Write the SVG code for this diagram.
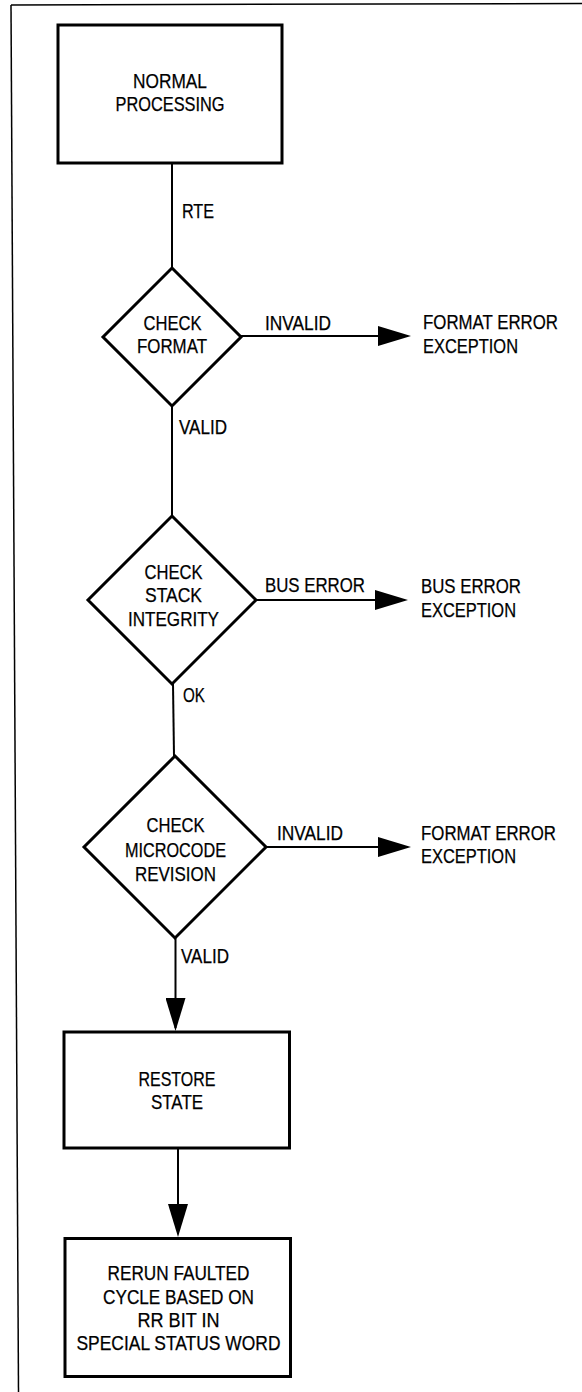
<svg xmlns="http://www.w3.org/2000/svg" width="582" height="1392" viewBox="0 0 582 1392">
<style>
  .box { fill: #fff; stroke: #000; stroke-width: 3; }
  .dia { fill: #fff; stroke: #000; stroke-width: 3; stroke-linejoin: miter; }
  .ln { fill: none; stroke: #000; stroke-width: 2; }
  .frame { fill: none; stroke: #000; stroke-width: 1.5; }
  text { font-family: "Liberation Sans", Arial, sans-serif; font-size: 20px; fill: #000; stroke: #000; stroke-width: 0.25; }
  .c { text-anchor: middle; }
</style>
<defs>
  <marker id="arr" viewBox="0 0 33 20" markerWidth="33" markerHeight="20" refX="30" refY="10" orient="auto" markerUnits="userSpaceOnUse">
    <path d="M0,0 L33,10 L0,20 Z" fill="#000"/>
  </marker>
</defs>
<rect width="582" height="1392" fill="#fff"/>
<g id="frame">
  <path class="frame" d="M11,5 L582,3.5"/>
  <path class="frame" d="M11,5 L18.5,1392"/>
</g>
<g id="connectors">
  <path class="ln" d="M172,163 L172,268"/>
  <path class="ln" d="M241,336 L408,336" marker-end="url(#arr)"/>
  <path class="ln" d="M172,406 L172,516"/>
  <path class="ln" d="M256,600 L405,600" marker-end="url(#arr)"/>
  <path class="ln" d="M173,684 L174,756"/>
  <path class="ln" d="M266,847 L408,847" marker-end="url(#arr)"/>
  <path class="ln" d="M175.5,938 L175.5,1028" marker-end="url(#arr)"/>
  <path class="ln" d="M178,1148 L178,1234" marker-end="url(#arr)"/>
  <text x="182" y="218" textLength="32" lengthAdjust="spacingAndGlyphs">RTE</text>
  <text x="265" y="330" textLength="66" lengthAdjust="spacingAndGlyphs">INVALID</text>
  <text x="179" y="434" textLength="48" lengthAdjust="spacingAndGlyphs">VALID</text>
  <text x="265" y="592" textLength="100" lengthAdjust="spacingAndGlyphs">BUS ERROR</text>
  <text x="183" y="702" textLength="22" lengthAdjust="spacingAndGlyphs">OK</text>
  <text x="277" y="840" textLength="66" lengthAdjust="spacingAndGlyphs">INVALID</text>
  <text x="181" y="963" textLength="48" lengthAdjust="spacingAndGlyphs">VALID</text>
</g>
<g id="normal-processing">
  <rect class="box" x="58" y="25" width="224" height="138"/>
  <text class="c" x="170" y="88" textLength="74" lengthAdjust="spacingAndGlyphs">NORMAL</text>
  <text class="c" x="170" y="111" textLength="109" lengthAdjust="spacingAndGlyphs">PROCESSING</text>
</g>
<g id="check-format">
  <path class="dia" d="M172,268 L241,337 L172,406 L103,337 Z"/>
  <text class="c" x="172.5" y="330" textLength="58" lengthAdjust="spacingAndGlyphs">CHECK</text>
  <text class="c" x="172" y="353" textLength="70" lengthAdjust="spacingAndGlyphs">FORMAT</text>
</g>
<g id="format-error-1">
  <text x="423" y="329" textLength="135" lengthAdjust="spacingAndGlyphs">FORMAT ERROR</text>
  <text x="423" y="353" textLength="95" lengthAdjust="spacingAndGlyphs">EXCEPTION</text>
</g>
<g id="check-stack">
  <path class="dia" d="M172,516 L256,600 L172,684 L88,600 Z"/>
  <text class="c" x="173.5" y="579" textLength="58" lengthAdjust="spacingAndGlyphs">CHECK</text>
  <text class="c" x="173.5" y="602" textLength="57" lengthAdjust="spacingAndGlyphs">STACK</text>
  <text class="c" x="173.5" y="626" textLength="91" lengthAdjust="spacingAndGlyphs">INTEGRITY</text>
</g>
<g id="bus-error">
  <text x="421" y="593" textLength="100" lengthAdjust="spacingAndGlyphs">BUS ERROR</text>
  <text x="421" y="617" textLength="95" lengthAdjust="spacingAndGlyphs">EXCEPTION</text>
</g>
<g id="check-microcode">
  <path class="dia" d="M175,756 L266,847 L175,938 L84,847 Z"/>
  <text class="c" x="175.5" y="832" textLength="58" lengthAdjust="spacingAndGlyphs">CHECK</text>
  <text class="c" x="175.5" y="857" textLength="101" lengthAdjust="spacingAndGlyphs">MICROCODE</text>
  <text class="c" x="175.5" y="881" textLength="81" lengthAdjust="spacingAndGlyphs">REVISION</text>
</g>
<g id="format-error-2">
  <text x="421" y="840" textLength="135" lengthAdjust="spacingAndGlyphs">FORMAT ERROR</text>
  <text x="421" y="863" textLength="95" lengthAdjust="spacingAndGlyphs">EXCEPTION</text>
</g>
<g id="restore-state">
  <rect class="box" x="64" y="1032" width="225.5" height="116"/>
  <text class="c" x="177" y="1086" textLength="77" lengthAdjust="spacingAndGlyphs">RESTORE</text>
  <text class="c" x="177" y="1109" textLength="52" lengthAdjust="spacingAndGlyphs">STATE</text>
</g>
<g id="rerun">
  <rect class="box" x="65" y="1238.5" width="225.5" height="138"/>
  <text class="c" x="178.5" y="1280" textLength="142" lengthAdjust="spacingAndGlyphs">RERUN FAULTED</text>
  <text class="c" x="178.5" y="1303.5" textLength="151" lengthAdjust="spacingAndGlyphs">CYCLE BASED ON</text>
  <text class="c" x="178.5" y="1327" textLength="82" lengthAdjust="spacingAndGlyphs">RR BIT IN</text>
  <text class="c" x="178.5" y="1350" textLength="204" lengthAdjust="spacingAndGlyphs">SPECIAL STATUS WORD</text>
</g>
</svg>
